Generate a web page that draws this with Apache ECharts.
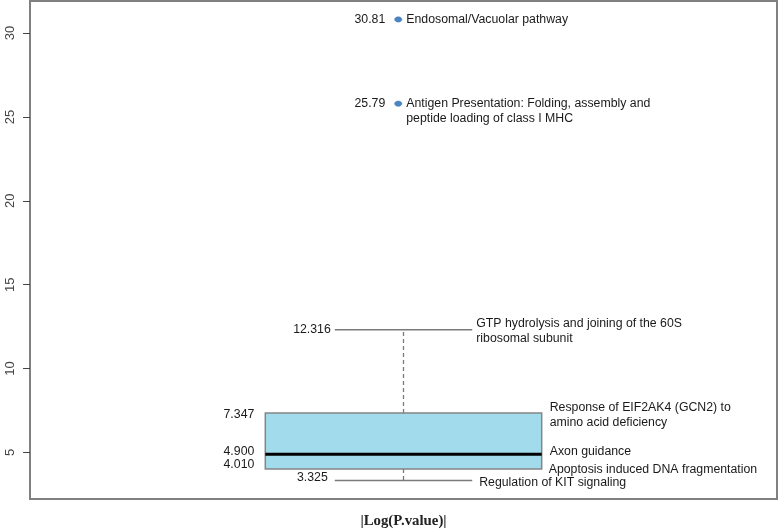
<!DOCTYPE html>
<html><head><meta charset="utf-8">
<script src="https://cdn.jsdelivr.net/npm/echarts@6/dist/echarts.min.js"></script>
<style>html,body{margin:0;padding:0;background:#fff}#c{width:778px;height:529px}</style>
</head><body><div id="c"></div>
<script>
// ---- data ----
const statValues = [3.325, 4.010, 4.900, 7.347, 12.316]; // min, Q1, median, Q3, max (whisker)
const statLabels = ['3.325', '4.010', '4.900', '7.347', '12.316'];
const statNames = [
  'Regulation of KIT signaling',
  'Apoptosis induced DNA fragmentation',
  'Axon guidance',
  'Response of EIF2AK4 (GCN2) to\namino acid deficiency',
  'GTP hydrolysis and joining of the 60S\nribosomal subunit'
];
const outlierValues = [30.81, 25.79];
const outlierLabels = ['30.81', '25.79'];
const outlierNames = [
  'Endosomal/Vacuolar pathway',
  'Antigen Presentation: Folding, assembly and\npeptide loading of class I MHC'
];
const yTicks = [5, 10, 15, 20, 25, 30];
const axisTitle = '|Log(P.value)|';

// ---- layout / style ----
const FONT = '"Liberation Sans", Arial, Helvetica, sans-serif';
const FS = 12.3, LH = 15, TXT = '#1a1a1a';
const BOX_C = 0.5, BOX_HW = 0.185, CAP_HW = 0.092, PT_X = 0.493;
const leftGap = [7, 11, 11, 11, 4], rightGap = [7, 7, 8, 8, 4];
const leftDy = [-3, -4, -3, 2, 0], rightDy = [2.5, 1, -3, 2.5, 1];

const allVals = statValues.concat(outlierValues);
const dMin = Math.min(...allVals), dMax = Math.max(...allVals);
const pad = (dMax - dMin) * 0.04;

function txt(x, y, text, align, vAlign) {
  return { type: 'text', style: { x: x, y: y, text: text, fill: TXT, fontSize: FS, fontFamily: FONT,
    align: align, verticalAlign: vAlign || 'middle', lineHeight: LH } };
}

const chart = echarts.init(document.getElementById('c'), null, { renderer: 'canvas' });
chart.setOption({
  animation: false,
  backgroundColor: '#fff',
  grid: { left: 30, right: 1, top: 1, bottom: 30, show: true, borderColor: '#808080', borderWidth: 2,
    containLabel: false, outerBoundsMode: 'none' },
  xAxis: {
    type: 'value', min: 0, max: 1,
    axisLine: { show: false }, axisTick: { show: false }, axisLabel: { show: false }, splitLine: { show: false },
    name: axisTitle, nameLocation: 'middle', nameGap: 15,
    nameTextStyle: { fontFamily: '"Liberation Serif", "Times New Roman", serif', fontWeight: 'bold', fontSize: 14.8, color: '#222' }
  },
  yAxis: {
    type: 'value', min: dMin - pad, max: dMax + pad,
    axisLine: { show: false },
    splitLine: { show: false },
    axisTick: { show: true, length: 7, customValues: yTicks, lineStyle: { color: '#444', width: 1 } },
    axisLabel: { customValues: yTicks, rotate: 90, margin: 13, fontSize: 13, color: '#444', fontFamily: FONT }
  },
  series: [
    {
      type: 'custom', name: 'box',
      data: [statValues],
      encode: { y: [0, 1, 2, 3, 4] },
      renderItem: function (params, api) {
        const v = i => api.value(i);
        const yMin = api.coord([BOX_C, v(0)])[1];
        const yQ1 = api.coord([BOX_C, v(1)])[1];
        const yMed = api.coord([BOX_C, v(2)])[1];
        const yQ3 = api.coord([BOX_C, v(3)])[1];
        const yMax = api.coord([BOX_C, v(4)])[1];
        const cx = api.coord([BOX_C, 0])[0];
        const xl = api.coord([BOX_C - BOX_HW, 0])[0];
        const xr = api.coord([BOX_C + BOX_HW, 0])[0];
        const cl = api.coord([BOX_C - CAP_HW, 0])[0];
        const cr = api.coord([BOX_C + CAP_HW, 0])[0];
        const grey = '#7a7a7a';
        return { type: 'group', children: [
          { type: 'line', shape: { x1: cx, y1: yQ3, x2: cx, y2: yMax }, style: { stroke: grey, lineWidth: 1.3, lineDash: [4, 3] } },
          { type: 'line', shape: { x1: cx, y1: yQ1, x2: cx, y2: yMin }, style: { stroke: grey, lineWidth: 1.3, lineDash: [4, 3] } },
          { type: 'line', shape: { x1: cl, y1: yMax, x2: cr, y2: yMax }, style: { stroke: grey, lineWidth: 1.5 } },
          { type: 'line', shape: { x1: cl, y1: yMin, x2: cr, y2: yMin }, style: { stroke: grey, lineWidth: 1.5 } },
          { type: 'rect', shape: { x: xl, y: yQ3, width: xr - xl, height: yQ1 - yQ3 }, style: { fill: '#a2dbeb', stroke: '#858585', lineWidth: 1.5 } },
          { type: 'line', shape: { x1: xl, y1: yMed, x2: xr, y2: yMed }, style: { stroke: '#000', lineWidth: 3 } }
        ] };
      }
    },
    {
      type: 'custom', name: 'stat labels',
      data: statValues.map(v => [v]),
      encode: { y: 0 },
      renderItem: function (params, api) {
        const i = params.dataIndex;
        const y = api.coord([BOX_C, api.value(0)])[1];
        const whisker = (i === 0 || i === 4);
        const hw = whisker ? CAP_HW : BOX_HW;
        const xl = api.coord([BOX_C - hw, 0])[0];
        const xr = api.coord([BOX_C + hw, 0])[0];
        return { type: 'group', children: [
          txt(xl - leftGap[i], y + leftDy[i], statLabels[i], 'right'),
          txt(xr + rightGap[i], y + rightDy[i], statNames[i], 'left')
        ] };
      }
    },
    {
      type: 'custom', name: 'outliers',
      data: outlierValues.map(v => [v]),
      encode: { y: 0 },
      renderItem: function (params, api) {
        const i = params.dataIndex;
        const p = api.coord([PT_X, api.value(0)]);
        return { type: 'group', children: [
          { type: 'ellipse', shape: { cx: p[0], cy: p[1], rx: 3.6, ry: 2.6 }, style: { fill: '#4a86c6', stroke: '#3a6fa8', lineWidth: 0.5 } },
          txt(p[0] - 13, p[1], outlierLabels[i], 'right'),
          txt(p[0] + 8, p[1] - LH / 2, outlierNames[i], 'left', 'top')
        ] };
      }
    }
  ]
});
</script>
</body></html>
